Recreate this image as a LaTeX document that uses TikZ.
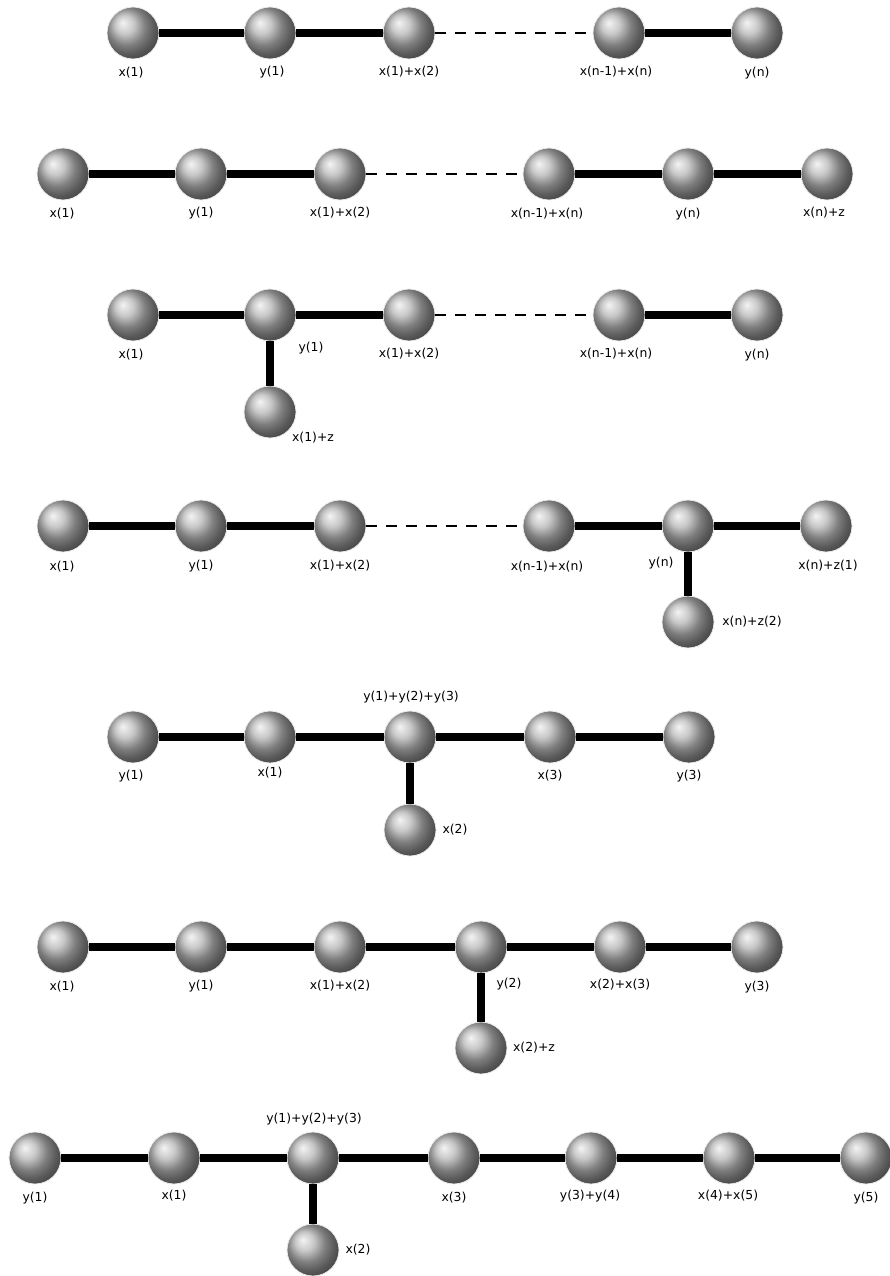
\documentclass[tikz,border=0pt]{standalone}
\usepackage{fontspec}
\setmainfont{DejaVu Sans}
\begin{document}
\begin{tikzpicture}[x=1pt,y=-1pt,
  sph/.style={circle,minimum size=52pt,inner sep=0pt,shading=ball,ball color=gray!58,draw=gray!15,line width=0.8pt},
  lbl/.style={font=\fontsize{12.4}{14}\selectfont,inner sep=0pt},
  bond/.style={line width=8pt},
  gap/.style={line width=1.5pt,dash pattern=on 11pt off 9pt}]
\useasboundingbox (0,0) rectangle (889,1276);
% Row 1
\node[sph] (a1) at (133,33) {};
\node[sph] (a2) at (270,33) {};
\node[sph] (a3) at (409,33) {};
\node[sph] (a4) at (619,33) {};
\node[sph] (a5) at (757,33) {};
\node[lbl] (la1) at (131,73) {x(1)};
\node[lbl] (la2) at (272,72) {y(1)};
\node[lbl] (la3) at (409,72) {x(1)+x(2)};
\node[lbl] (la4) at (616,72) {x(n-1)+x(n)};
\node[lbl] (la5) at (757,73) {y(n)};
\draw[bond] (a1) -- (a2);
\draw[bond] (a2) -- (a3);
\draw[gap] (a3) -- (a4);
\draw[bond] (a4) -- (a5);
% Row 2
\node[sph] (b1) at (63,174) {};
\node[sph] (b2) at (201,174) {};
\node[sph] (b3) at (340,174) {};
\node[sph] (b4) at (549,174) {};
\node[sph] (b5) at (688,174) {};
\node[sph] (b6) at (827,174) {};
\node[lbl] (lb1) at (62,214) {x(1)};
\node[lbl] (lb2) at (201,213) {y(1)};
\node[lbl] (lb3) at (340,213) {x(1)+x(2)};
\node[lbl] (lb4) at (547,214) {x(n-1)+x(n)};
\node[lbl] (lb5) at (688,214) {y(n)};
\node[lbl] (lb6) at (824,213) {x(n)+z};
\draw[bond] (b1) -- (b2);
\draw[bond] (b2) -- (b3);
\draw[gap] (b3) -- (b4);
\draw[bond] (b4) -- (b5);
\draw[bond] (b5) -- (b6);
% Row 3
\node[sph] (c1) at (133,315) {};
\node[sph] (c2) at (270,315) {};
\node[sph] (c3) at (409,315) {};
\node[sph] (c4) at (619,315) {};
\node[sph] (c5) at (757,315) {};
\node[sph] (c6) at (270,412) {};
\node[lbl] (lc1) at (131,355) {x(1)};
\node[lbl] (lc2) at (311,348) {y(1)};
\node[lbl] (lc3) at (409,354) {x(1)+x(2)};
\node[lbl] (lc4) at (616,354) {x(n-1)+x(n)};
\node[lbl] (lc5) at (757,355) {y(n)};
\node[lbl] (lc6) at (313,438) {x(1)+z};
\draw[bond] (c1) -- (c2);
\draw[bond] (c2) -- (c3);
\draw[gap] (c3) -- (c4);
\draw[bond] (c4) -- (c5);
\draw[bond] (c2) -- (c6);
% Row 4
\node[sph] (d1) at (63,526) {};
\node[sph] (d2) at (201,526) {};
\node[sph] (d3) at (340,526) {};
\node[sph] (d4) at (549,526) {};
\node[sph] (d5) at (688,526) {};
\node[sph] (d6) at (826,526) {};
\node[sph] (d7) at (688,622) {};
\node[lbl] (ld1) at (62,567) {x(1)};
\node[lbl] (ld2) at (201,566) {y(1)};
\node[lbl] (ld3) at (340,566) {x(1)+x(2)};
\node[lbl] (ld4) at (547,567) {x(n-1)+x(n)};
\node[lbl] (ld5) at (661,563) {y(n)};
\node[lbl] (ld6) at (828,566) {x(n)+z(1)};
\node[lbl] (ld7) at (752,622) {x(n)+z(2)};
\draw[bond] (d1) -- (d2);
\draw[bond] (d2) -- (d3);
\draw[gap] (d3) -- (d4);
\draw[bond] (d4) -- (d5);
\draw[bond] (d5) -- (d6);
\draw[bond] (d5) -- (d7);
% Row 5
\node[sph] (e1) at (133,737) {};
\node[sph] (e2) at (270,737) {};
\node[sph] (e3) at (410,737) {};
\node[sph] (e4) at (550,737) {};
\node[sph] (e5) at (689,737) {};
\node[sph] (e6) at (410,830) {};
\node[lbl] (le1) at (131,776) {y(1)};
\node[lbl] (le2) at (270,773) {x(1)};
\node[lbl] (le3) at (411,697) {y(1)+y(2)+y(3)};
\node[lbl] (le4) at (550,776) {x(3)};
\node[lbl] (le5) at (689,776) {y(3)};
\node[lbl] (le6) at (455,830) {x(2)};
\draw[bond] (e1) -- (e2);
\draw[bond] (e2) -- (e3);
\draw[bond] (e3) -- (e4);
\draw[bond] (e4) -- (e5);
\draw[bond] (e3) -- (e6);
% Row 6
\node[sph] (f1) at (63,947) {};
\node[sph] (f2) at (201,947) {};
\node[sph] (f3) at (340,947) {};
\node[sph] (f4) at (481,947) {};
\node[sph] (f5) at (620,947) {};
\node[sph] (f6) at (757,947) {};
\node[sph] (f7) at (481,1048) {};
\node[lbl] (lf1) at (62,987) {x(1)};
\node[lbl] (lf2) at (201,986) {y(1)};
\node[lbl] (lf3) at (340,986) {x(1)+x(2)};
\node[lbl] (lf4) at (509,984) {y(2)};
\node[lbl] (lf5) at (620,985) {x(2)+x(3)};
\node[lbl] (lf6) at (757,987) {y(3)};
\node[lbl] (lf7) at (534,1048) {x(2)+z};
\draw[bond] (f1) -- (f2);
\draw[bond] (f2) -- (f3);
\draw[bond] (f3) -- (f4);
\draw[bond] (f4) -- (f5);
\draw[bond] (f5) -- (f6);
\draw[bond] (f4) -- (f7);
% Row 7
\node[sph] (g1) at (35,1158) {};
\node[sph] (g2) at (174,1158) {};
\node[sph] (g3) at (313,1158) {};
\node[sph] (g4) at (454,1158) {};
\node[sph] (g5) at (591,1158) {};
\node[sph] (g6) at (729,1158) {};
\node[sph] (g7) at (866,1158) {};
\node[sph] (g8) at (313,1250) {};
\node[lbl] (lg1) at (35,1198) {y(1)};
\node[lbl] (lg2) at (174,1196) {x(1)};
\node[lbl] (lg3) at (314,1119) {y(1)+y(2)+y(3)};
\node[lbl] (lg4) at (454,1198) {x(3)};
\node[lbl] (lg5) at (590,1196) {y(3)+y(4)};
\node[lbl] (lg6) at (728,1196) {x(4)+x(5)};
\node[lbl] (lg7) at (866,1198) {y(5)};
\node[lbl] (lg8) at (358,1250) {x(2)};
\draw[bond] (g1) -- (g2);
\draw[bond] (g2) -- (g3);
\draw[bond] (g3) -- (g4);
\draw[bond] (g4) -- (g5);
\draw[bond] (g5) -- (g6);
\draw[bond] (g6) -- (g7);
\draw[bond] (g3) -- (g8);
\end{tikzpicture}
\end{document}
